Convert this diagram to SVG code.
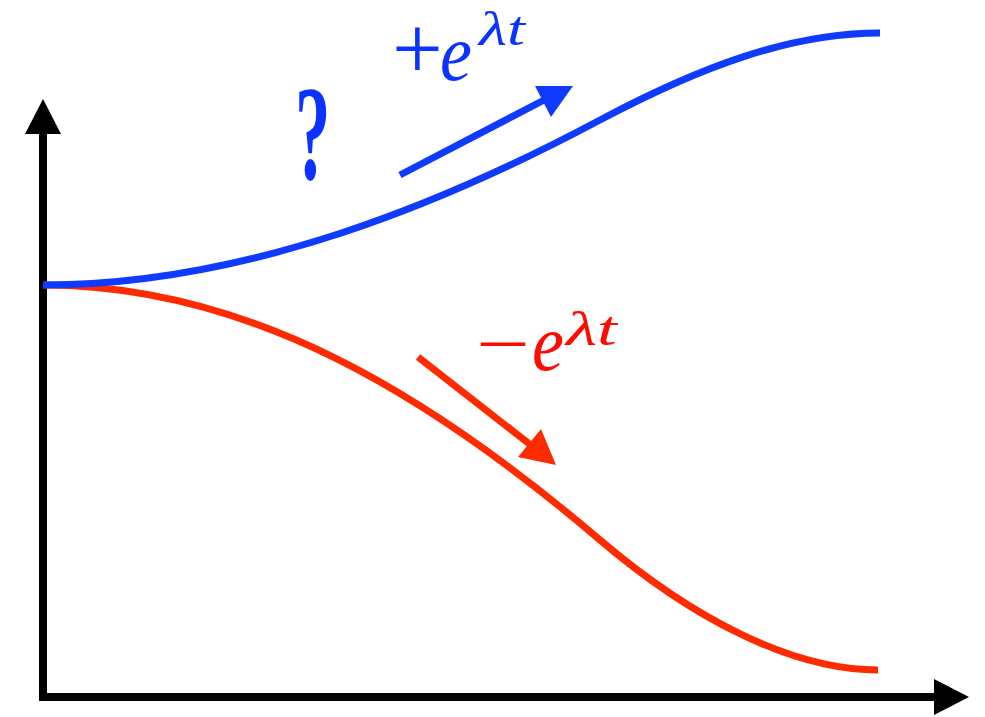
<svg xmlns="http://www.w3.org/2000/svg" width="985" height="717" viewBox="0 0 985 717">
<style>
.ax{stroke:#000;stroke-width:8;fill:none}
.bl{stroke:#0F3BFF;stroke-width:7;fill:none}
.rd{stroke:#FF2A00;stroke-width:7;fill:none}
.serif{font-family:"Liberation Serif","Times New Roman",serif}
.it{font-style:italic}
</style>
<rect width="985" height="717" fill="#fff"/>
<g id="axes">
<line class="ax" x1="43" y1="130" x2="43" y2="701"/>
<polygon points="43,99 25,134 61,134" fill="#000"/>
<line class="ax" x1="39" y1="697" x2="940" y2="697"/>
<polygon points="969,697 934,679 934,715" fill="#000"/>
</g>
<g id="connectors">
<path class="rd" d="M43,285 C250,285 430,395 600,540 C690,616.5 790,670 878,670"/>
<path class="bl" d="M43,285 C250,285 450,200 600,120 C700,67 790,33 880,33"/>
<line class="bl" x1="400" y1="175" x2="548" y2="98"/>
<polygon points="573,86 535,86 551,117" fill="#0F3BFF"/>
<line class="rd" x1="418" y1="357" x2="532" y2="446"/>
<polygon points="556,465 518,457 541,429" fill="#FF2A00"/>
</g>
<g id="label-plus" fill="#0A33FF">
<text class="serif" x="392" y="79" font-size="90">+</text>
<text class="serif it" transform="translate(440,80) scale(1,1.12)" font-size="72">e</text>
<text class="serif it" x="479" y="45" font-size="48" textLength="46" lengthAdjust="spacingAndGlyphs">λt</text>
</g>
<g id="label-minus" fill="#FF0A00">
<text class="serif" transform="translate(476,367.5) scale(1.33,1)" font-size="72">−</text>
<text class="serif it" transform="translate(532,370) scale(1,1.12)" font-size="72">e</text>
<text class="serif it" x="566" y="345" font-size="48" textLength="51" lengthAdjust="spacingAndGlyphs">λt</text>
</g>
<g id="question" fill="#0A33FF">
<text class="serif" transform="translate(295,179) scale(0.52,1)" font-weight="bold" font-size="136">?</text>
</g>
</svg>
